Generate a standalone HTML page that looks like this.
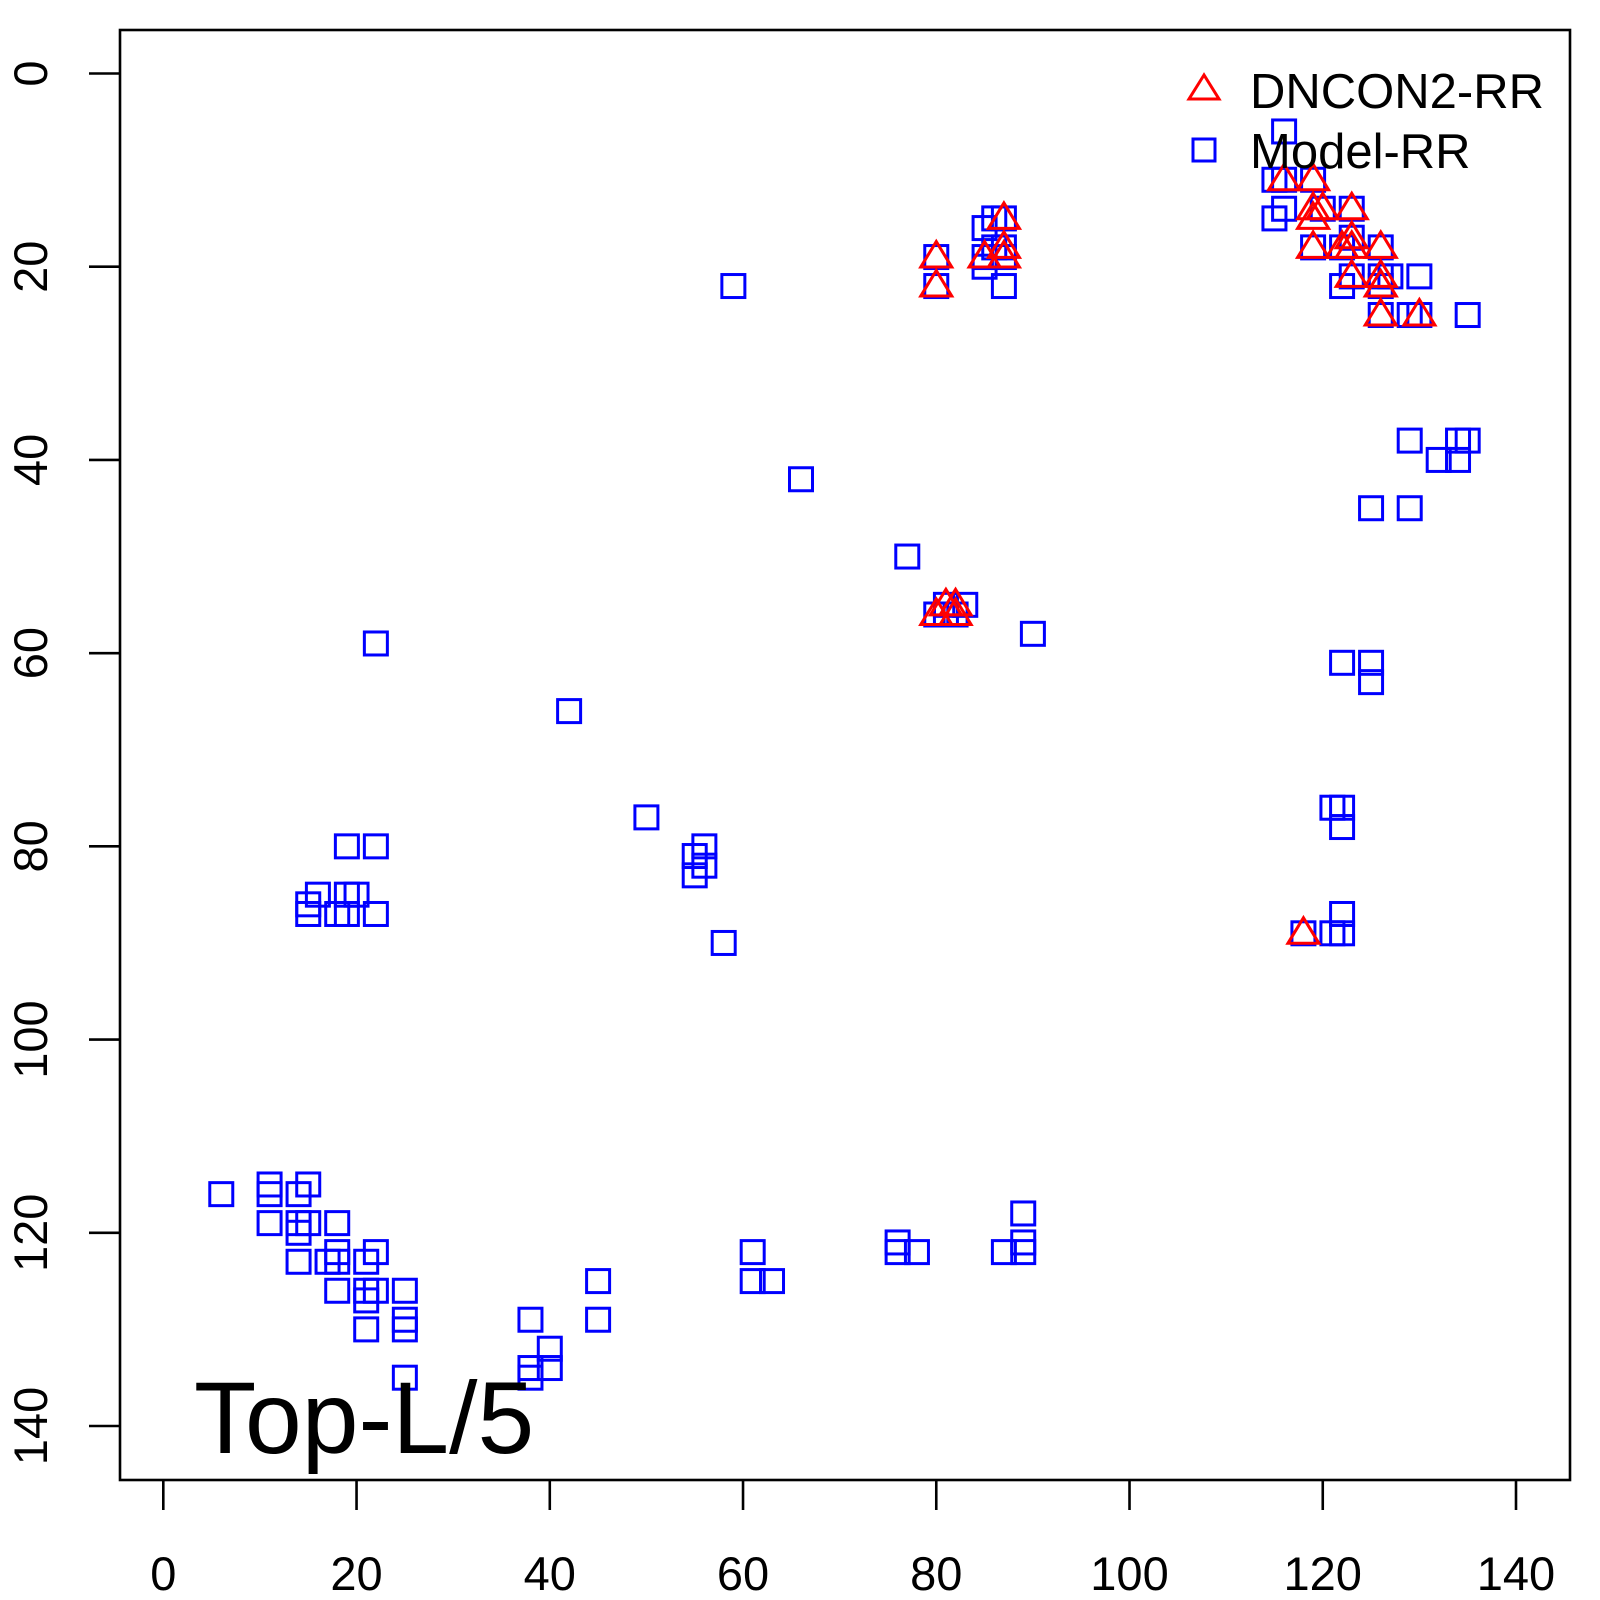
<!DOCTYPE html>
<html><head><meta charset="utf-8"><style>
html,body{margin:0;padding:0;background:#fff;}
svg{display:block;font-family:"Liberation Sans",Arial,sans-serif;}
</style></head><body>
<svg id="chart" width="1600" height="1600" viewBox="0 0 1600 1600" xmlns="http://www.w3.org/2000/svg">
<rect x="120" y="30" width="1450" height="1450" fill="none" stroke="#000" stroke-width="2.6"/>
<g id="axes"></g>
<g id="squares"></g>
<g id="triangles"></g>
<g>
<polygon points="1204,75 1189,99 1219,99" fill="none" stroke="#f00" stroke-width="3"/>
<text x="1250" y="108" font-size="49">DNCON2-RR</text>
<rect x="1193" y="139" width="22" height="22" fill="none" stroke="#00f" stroke-width="3"/>
<text x="1250" y="168" font-size="49">Model-RR</text>
</g>
<text x="194" y="1453" font-size="102">Top-L/5</text>
</svg>
<script>
const xTicks=[0,20,40,60,80,100,120,140];
const yTicks=[0,20,40,60,80,100,120,140];
const modelX=[116,115,116,115,116,119,120,119,123,122,123,122,123,126,127,130,126,129,130,135,126,126,
129,135,134,132,134,125,129,122,125,125,121,122,122,122,118,121,122,
59,66,77,90,80,80,85,85,85,86,87,87,87,87,86,80,81,82,83,81,
22,42,50,56,55,56,55,58,19,22,16,19,20,15,15,18,19,22,
6,11,11,11,14,15,14,15,14,14,17,18,18,18,18,21,22,21,22,21,21,25,25,25,25,
38,38,38,40,40,45,45,61,61,63,76,76,78,87,89,89,89];
const modelY=[6,11,11,15,14,11,14,18,14,18,17,22,21,18,21,21,25,25,25,25,21,22,
38,38,38,40,40,45,45,61,61,63,76,76,78,87,89,89,89,
22,42,50,58,19,22,19,20,16,15,15,18,19,22,18,56,55,56,55,56,
59,66,77,80,81,82,83,90,80,80,85,85,85,86,87,87,87,87,
116,115,116,119,116,115,119,119,120,123,123,119,122,123,126,123,122,126,126,127,130,126,129,130,135,
129,134,135,132,134,125,129,122,125,125,121,122,122,122,118,121,122];
const dnconX=[80,80,85,87,87,87,80,81,82,82,116,119,119,119,120,119,123,122,123,123,123,126,126,126,126,130,118];
const dnconY=[19,22,19,15,18,19,56,55,55,56,11,11,14,15,14,18,14,18,17,18,21,18,21,22,25,25,89];
const NS="http://www.w3.org/2000/svg";
const sx=v=>163.3+v*(1352.7/140);
const sy=v=>73.5+v*(1352.5/140);
function mk(tag,attrs,parent){const e=document.createElementNS(NS,tag);for(const k in attrs)e.setAttribute(k,attrs[k]);parent.appendChild(e);return e;}
const ax=document.getElementById('axes');
xTicks.forEach(t=>{
 const l=mk('line',{x1:sx(t),x2:sx(t),y1:1480,y2:1510,stroke:'#000','stroke-width':2.6},ax);
 
 
 const tx=mk('text',{x:sx(t),y:1590,'font-size':47,'text-anchor':'middle'},ax);
 tx.textContent=t;
 
 
});
yTicks.forEach(t=>{
 const l=mk('line',{x1:89,x2:120,y1:sy(t),y2:sy(t),stroke:'#000','stroke-width':2.6},ax);
 
 
 const tx=mk('text',{x:0,y:0,'font-size':47,'text-anchor':'middle',transform:`translate(47,${sy(t)}) rotate(-90)`},ax);
 tx.textContent=t;
 
 
});
const sq=document.getElementById('squares');
modelX.forEach((x,i)=>{
 const r=mk('rect',{x:sx(x)-11.5,y:sy(modelY[i])-11.5,width:23,height:23,fill:'none',stroke:'#00f','stroke-width':3},sq);
 
 
});
const tr=document.getElementById('triangles');
dnconX.forEach((x,i)=>{
 const cx=sx(x),cy=sy(dnconY[i]);
 const p=mk('polygon',{points:`${cx},${cy-15.5} ${cx-15.5},${cy+10} ${cx+15.5},${cy+10}`,fill:'none',stroke:'#f00','stroke-width':3},tr);
 
 
});
</script>
</body></html>
